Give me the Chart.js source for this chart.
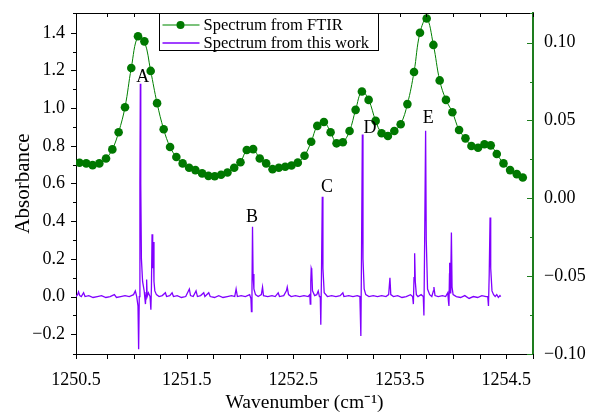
<!DOCTYPE html>
<html><head><meta charset="utf-8">
<script src="https://cdn.jsdelivr.net/npm/chart.js@4.4.1/dist/chart.umd.min.js"></script>
<style>html,body{margin:0;padding:0;background:#fff}#wrap{width:595px;height:413px}</style>
</head><body><div id="wrap"><canvas id="c" width="595" height="413" style="width:595px;height:413px"></canvas></div>
<script>
// FTIR spectrum (right axis)
const ftirWavenumber = [1250.493,1250.556,1250.616,1250.679,1250.742,1250.801,1250.860,1250.920,1250.979,1251.042,
1251.102,1251.161,1251.221,1251.283,1251.343,1251.402,1251.461,1251.522,1251.581,1251.644,
1251.703,1251.762,1251.822,1251.882,1251.945,1252.004,1252.063,1252.123,1252.185,1252.245,
1252.305,1252.364,1252.424,1252.483,1252.542,1252.605,1252.668,1252.725,1252.787,1252.850,
1252.906,1252.965,1253.028,1253.085,1253.144,1253.207,1253.273,1253.329,1253.388,1253.448,
1253.508,1253.571,1253.633,1253.689,1253.752,1253.815,1253.874,1253.933,1253.993,1254.056,
1254.116,1254.172,1254.234,1254.294,1254.353,1254.410,1254.473,1254.535,1254.598,1254.654];
const ftirAbsorbance = [0.0228,0.0224,0.0213,0.0224,0.0256,0.0314,0.0424,0.0585,0.0837,0.1041,
0.1008,0.0818,0.0611,0.0443,0.0329,0.0265,0.0224,0.0196,0.0181,0.0160,
0.0144,0.0142,0.0151,0.0166,0.0196,0.0231,0.0310,0.0316,0.0256,0.0224,
0.0187,0.0196,0.0203,0.0211,0.0229,0.0273,0.0363,0.0465,0.0490,0.0424,
0.0353,0.0360,0.0432,0.0568,0.0686,0.0632,0.0497,0.0418,0.0400,0.0432,
0.0476,0.0605,0.0811,0.1063,0.1155,0.0985,0.0757,0.0632,0.0553,0.0439,
0.0385,0.0336,0.0325,0.0347,0.0340,0.0284,0.0224,0.0181,0.0155,0.0134];

// Spectrum from this work (left axis)
const workWavenumber = [1250.46,1250.475,1250.484,1250.495,1250.51,1250.531,1250.545,1250.58,1250.62,1250.66,
1250.70,1250.74,1250.78,1250.82,1250.84,1250.88,1250.92,1250.96,1251.00,1251.017,
1251.03,1251.042,1251.048,1251.054,1251.060,1251.064,1251.068,1251.074,1251.085,1251.10,
1251.112,1251.118,1251.123,1251.128,1251.14,1251.155,1251.163,1251.168,1251.174,1251.180,
1251.186,1251.192,1251.20,1251.215,1251.24,1251.27,1251.299,1251.31,1251.34,1251.362,
1251.375,1251.41,1251.45,1251.49,1251.524,1251.535,1251.56,1251.587,1251.60,1251.63,
1251.659,1251.67,1251.706,1251.72,1251.76,1251.80,1251.84,1251.88,1251.92,1251.95,
1251.963,1251.975,1252.01,1252.05,1252.09,1252.102,1252.107,1252.112,1252.117,1252.122,
1252.13,1252.145,1252.17,1252.20,1252.211,1252.22,1252.26,1252.30,1252.33,1252.358,
1252.37,1252.41,1252.435,1252.443,1252.455,1252.48,1252.52,1252.56,1252.60,1252.64,
1252.655,1252.659,1252.664,1252.668,1252.673,1252.68,1252.70,1252.72,1252.734,1252.745,
1252.753,1252.758,1252.764,1252.772,1252.778,1252.79,1252.82,1252.86,1252.90,1252.94,
1252.965,1252.975,1253.02,1253.06,1253.10,1253.125,1253.134,1253.140,1253.148,1253.154,
1253.165,1253.18,1253.21,1253.25,1253.29,1253.33,1253.37,1253.395,1253.407,1253.415,
1253.44,1253.48,1253.52,1253.56,1253.60,1253.62,1253.627,1253.633,1253.639,1253.645,
1253.655,1253.67,1253.70,1253.72,1253.726,1253.733,1253.742,1253.748,1253.76,1253.78,
1253.80,1253.815,1253.820,1253.83,1253.86,1253.90,1253.93,1253.95,1253.957,1253.961,
1253.966,1253.968,1253.972,1253.978,1253.984,1253.99,1254.0,1254.03,1254.07,1254.11,
1254.15,1254.19,1254.23,1254.27,1254.31,1254.325,1254.332,1254.339,1254.347,1254.353,
1254.365,1254.38,1254.395,1254.41,1254.425,1254.44,1254.447];
const workAbsorbance = [0.0,0.01,0.025,0.005,0.0,0.02,0.0,0.005,-0.005,0.0,
0.005,-0.005,0.0,0.01,-0.005,0.0,0.005,0.0,0.01,0.03,
0.0,-0.05,-0.28,0.0,0.6,1.13,0.6,0.2,0.08,0.03,
-0.04,0.02,0.09,0.0,0.02,0.0,-0.07,0.05,0.33,0.15,
0.29,0.08,0.03,0.01,0.0,0.005,0.02,0.0,0.005,0.02,
0.0,0.005,-0.005,0.0,0.04,0.005,0.0,0.03,0.0,0.005,
0.02,0.0,0.02,0.0,-0.005,0.005,-0.005,0.0,0.005,0.0,
0.04,0.0,0.005,0.0,0.01,-0.01,-0.08,0.05,0.37,0.12,
0.04,0.01,0.0,0.01,0.05,0.005,0.0,0.005,0.0,0.02,
0.0,0.005,0.03,0.05,0.01,0.0,0.005,0.0,0.005,0.0,
0.01,-0.04,0.08,0.15,0.14,0.03,0.005,0.01,0.03,0.0,
0.0,-0.15,0.1,0.53,0.15,0.02,0.0,0.005,0.0,0.005,
0.02,0.0,0.005,0.0,0.005,0.0,-0.21,0.2,0.86,0.2,
0.04,0.01,0.0,0.005,0.0,0.005,0.0,0.01,0.10,0.01,
0.0,0.005,-0.005,0.0,0.01,0.0,-0.04,0.1,0.23,0.08,
0.01,0.0,0.01,0.0,-0.10,0.3,0.88,0.3,0.04,0.01,
0.0,0.03,0.05,0.005,0.0,0.005,0.0,0.02,-0.03,-0.05,
0.12,0.18,0.02,0.1,0.34,0.05,0.01,0.0,-0.005,0.005,
-0.01,0.0,-0.005,0.005,0.0,0.0,-0.05,0.12,0.42,0.15,
0.03,0.01,0.0,0.01,-0.005,0.005,0.0];

// Peak letters (placed in data coordinates)
const peakLabels = ['A','B','C','D','E'];
const peakLabelWavenumber = [1251.087,1252.112,1252.817,1253.221,1253.766];
const peakLabelAbsorbance = [1.165,0.422,0.581,0.894,0.947];

// Tick labels
const xTickLabels = ['1250.5','1251.5','1252.5','1253.5','1254.5'];
const yTickLabels = ['\u22120.2','0.0','0.2','0.4','0.6','0.8','1.0','1.2','1.4'];
const y2TickLabels = ['\u22120.10','\u22120.05','0.00','0.05','0.10'];

const SERIF = "'Liberation Serif', 'Times New Roman', serif";
const GREEN = '#008000';
const AXIS_GREEN = '#1e7d1e';
const PURPLE = '#8000ff';

function fmt(v, d){ const s = (Math.round(v*Math.pow(10,d))/Math.pow(10,d)).toFixed(d); return s.replace('-', '\u2212'); }

const tickPlugin = {
  id: 'frameTicks',
  afterDraw(chart){
    const {ctx, chartArea: a} = chart;
    const sx = chart.scales.x, sy = chart.scales.y, sy2 = chart.scales.y2;
    ctx.save();
    ctx.lineWidth = 1;
    ctx.strokeStyle = '#000';
    // top frame
    ctx.beginPath(); ctx.moveTo(a.left, a.top + 0.5); ctx.lineTo(a.right, a.top + 0.5); ctx.stroke();
    // x ticks: bottom outward, top inward
    ctx.beginPath();
    sx.ticks.forEach(t => {
      const p = Math.round(sx.getPixelForValue(t.value)) + 0.5;
      ctx.moveTo(p, a.bottom); ctx.lineTo(p, a.bottom + 5);
      ctx.moveTo(p, a.top); ctx.lineTo(p, a.top + 4);
    });
    ctx.stroke();
    // left y ticks outward
    ctx.beginPath();
    sy.ticks.forEach(t => {
      const p = Math.round(sy.getPixelForValue(t.value)) + 0.5;
      const len = t.label ? 5 : 3;
      ctx.moveTo(a.left - len, p); ctx.lineTo(a.left, p);
    });
    ctx.stroke();
    // right y2 ticks inward, green
    ctx.strokeStyle = AXIS_GREEN;
    ctx.beginPath();
    sy2.ticks.forEach(t => {
      const p = Math.round(sy2.getPixelForValue(t.value)) + 0.5;
      const len = t.label ? 6 : 3;
      ctx.moveTo(a.right - len, p); ctx.lineTo(a.right, p);
    });
    ctx.stroke();

    // peak letters
    ctx.fillStyle = '#000';
    ctx.font = '18px ' + SERIF;
    ctx.textAlign = 'center'; ctx.textBaseline = 'middle';
    peakLabels.forEach((s, i) => {
      ctx.fillText(s, sx.getPixelForValue(peakLabelWavenumber[i]), sy.getPixelForValue(peakLabelAbsorbance[i]));
    });

    // legend box
    const ds = chart.data.datasets;
    const bx = 159.5, by = a.top + 0.5, bw = 219, bh = 37;
    ctx.fillStyle = '#fff';
    ctx.fillRect(bx, by, bw, bh);
    ctx.strokeStyle = '#000'; ctx.lineWidth = 1;
    ctx.strokeRect(bx, by, bw, bh);
    ctx.textAlign = 'left';
    ctx.font = '16.5px ' + SERIF;
    const rows = [by + 11.5, by + 29.5];
    ds.forEach((d, i) => {
      const ry = rows[i];
      ctx.strokeStyle = i === 0 ? '#4fae4f' : d.borderColor;
      ctx.lineWidth = 1.3;
      ctx.beginPath(); ctx.moveTo(bx + 3, ry); ctx.lineTo(bx + 40, ry); ctx.stroke();
      if (d.pointRadius) {
        ctx.fillStyle = d.pointBackgroundColor;
        ctx.beginPath(); ctx.arc(bx + 21, ry, 4, 0, Math.PI*2); ctx.fill();
      }
      ctx.fillStyle = '#000';
      ctx.fillText(d.label, bx + 44, ry + 1);
    });
    ctx.restore();
  }
};

new Chart(document.getElementById('c'), {
  type: 'line',
  data: {
    datasets: [
      {
        label: 'Spectrum from FTIR',
        data: ftirWavenumber.map((x, i) => ({x: x, y: ftirAbsorbance[i]})),
        yAxisID: 'y2',
        borderColor: GREEN,
        borderWidth: 1,
        pointRadius: 4.3,
        pointBackgroundColor: '#007800',
        pointBorderWidth: 0,
        tension: 0.4,
        order: 1
      },
      {
        label: 'Spectrum from this work',
        data: workWavenumber.map((x, i) => ({x: x, y: workAbsorbance[i]})),
        yAxisID: 'y',
        borderColor: PURPLE,
        borderWidth: 1.3,
        pointRadius: 0,
        tension: 0,
        order: 2
      }
    ]
  },
  options: {
    responsive: false,
    animation: false,
    devicePixelRatio: 1,
    layout: {padding: {top: 13, left: 0, right: 0, bottom: 0}},
    plugins: {legend: {display: false}, tooltip: {enabled: false}},
    scales: {
      x: {
        type: 'linear', position: 'bottom',
        min: 1250.46, max: 1254.75,
        grid: {display: false, drawTicks: false},
        border: {display: true, color: '#000', width: 1},
        ticks: {
          stepSize: 0.25, autoSkip: false, maxRotation: 0, padding: 15,
          color: '#000', font: {family: SERIF, size: 18},
          callback: v => { const s = fmt(v, 1); return xTickLabels.includes(s) ? s : ''; }
        },
        title: {display: true, text: 'Wavenumber (cm\u207B\u00B9)', color: '#000',
          font: {family: SERIF, size: 19.5, lineHeight: 1.0}, padding: {top: 0, bottom: 0}},
        afterFit: s => { s.height = 59; s.paddingLeft = 0; s.paddingRight = 0; }
      },
      y: {
        type: 'linear', position: 'left',
        min: -0.305, max: 1.505,
        grid: {display: false, drawTicks: false},
        border: {display: true, color: '#000', width: 1},
        ticks: {
          stepSize: 0.1, padding: 11, autoSkip: false, color: '#000', font: {family: SERIF, size: 18},
          callback: v => { const s = fmt(v, 1); return yTickLabels.includes(s) ? s : ''; }
        },
        title: {display: true, text: 'Absorbance', color: '#000',
          font: {family: SERIF, size: 21, lineHeight: 1.2}, padding: {top: 11, bottom: 0}},
        afterFit: s => { s.width = 76; s.paddingTop = 0; s.paddingBottom = 0; }
      },
      y2: {
        type: 'linear', position: 'right',
        min: -0.1, max: 0.119,
        grid: {display: false, drawTicks: false},
        border: {display: true, color: AXIS_GREEN, width: 2},
        ticks: {
          stepSize: 0.025, padding: 11, autoSkip: false, color: '#000', font: {family: SERIF, size: 18},
          callback: v => { const s = fmt(v, 2); return y2TickLabels.includes(s) ? s : ''; }
        },
        afterFit: s => { s.width = 62; s.paddingTop = 0; s.paddingBottom = 0; }
      }
    }
  },
  plugins: [tickPlugin]
});
</script>
</body></html>
